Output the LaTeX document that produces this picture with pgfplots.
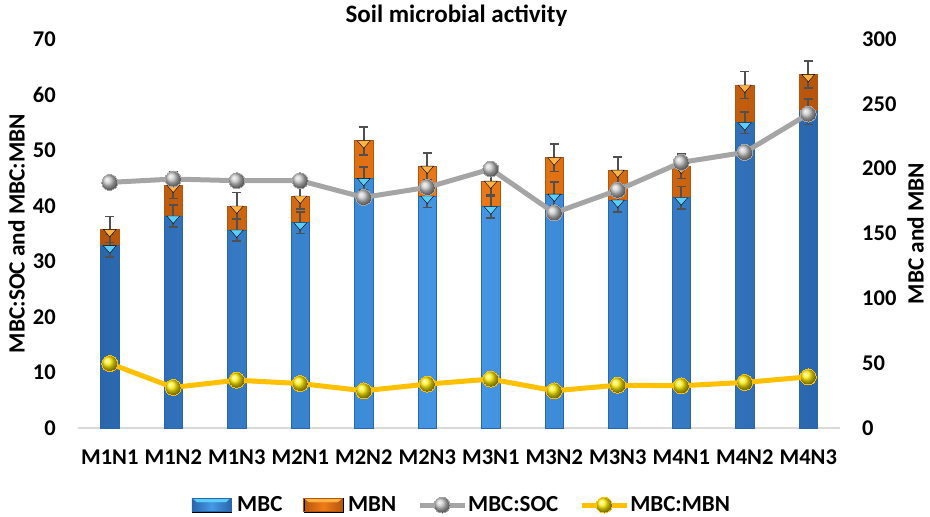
\documentclass[border=0pt]{standalone}
\usepackage{fontspec}
\setmainfont{Carlito}
\usepackage{pgfplots}
\usepackage{pgfplotstable}
\pgfplotsset{compat=1.18}

\definecolor{bM}{HTML}{4599E7}
\definecolor{bD}{HTML}{2A66AC}
\definecolor{bL}{HTML}{5CCDF4}
\definecolor{oM}{HTML}{EF7B17}
\definecolor{oD}{HTML}{B5550C}
\definecolor{oL}{HTML}{FBB444}
\definecolor{gL}{HTML}{A5A5A5}
\definecolor{yL}{HTML}{FFC000}
\definecolor{errc}{HTML}{505050}
\definecolor{axc}{HTML}{D9D9D9}

\pgfplotstableread{
x mbc mbn ec en soc ratio
0 140.6 12.6 8.7 10.0 44.2 11.6
1 163.5 23.9 8.7 10.3 44.8 7.3
2 152.7 18.5 8.5 10.3 44.5 8.6
3 158.3 20.6 8.2 10.0 44.5 8.0
4 192.5 29.0 9.0 10.8 41.5 6.7
5 178.9 23.1 8.7 10.3 43.3 7.9
6 170.6 19.8 8.5 10.3 46.6 8.8
7 180.4 28.0 9.3 10.6 38.7 6.7
8 175.8 23.1 9.0 10.3 42.8 7.7
9 177.6 24.4 8.7 9.5 47.8 7.6
10 235.4 29.1 8.2 10.3 49.6 8.2
11 243.9 28.8 9.8 10.3 56.5 9.2
}\datatable

\newcommand{\tickfont}{\bfseries\fontsize{22.5}{26}\selectfont}
\newcommand{\lblfont}{\bfseries\fontsize{23.3}{27}\selectfont}

\pgfplotsset{
  base/.style={
    scale only axis, width=762pt, height=389pt,
    xmin=-0.5, xmax=11.5,
    at={(78pt,89pt)}, anchor=south west,
    major tick length=0pt, minor tick num=0,
    /pgf/number format/assume math mode=true,
    tick label style={font=\tickfont},
    clip=false,
  },
  errstyle/.style={
    draw=none, mark=none, forget plot,
    error bars/.cd, y dir=both, y explicit,
    error bar style={draw=errc, line width=1.6pt, solid},
    error mark options={draw=errc, line width=1.6pt, mark size=4.7pt, rotate=90},
  },
  lineleg/.style={
    legend image code/.code={\draw[mark repeat=2, mark phase=2, ##1] plot coordinates {(0pt,0pt) (22.5pt,0pt) (45pt,0pt)};}
  },
  blueleg/.style={
    legend image code/.code={
      \shade[left color=bD, right color=bD, middle color=bM] (0pt,-6.7pt) rectangle (39pt,6.7pt);
      \fill[bL] (1pt,6.7pt) -- (38pt,6.7pt) -- (34pt,3pt) -- (5pt,3pt) -- cycle;
      \draw[bD, line width=0.6pt] (0pt,-6.7pt) rectangle (39pt,6.7pt);}
  },
  orangeleg/.style={
    legend image code/.code={
      \shade[left color=oD, right color=oD, middle color=oM] (0pt,-6.7pt) rectangle (39pt,6.7pt);
      \fill[oL] (1pt,6.7pt) -- (38pt,6.7pt) -- (34pt,3pt) -- (5pt,3pt) -- cycle;
      \draw[oD, line width=0.6pt] (0pt,-6.7pt) rectangle (39pt,6.7pt);}
  },
}

\begin{document}
\begin{tikzpicture}
\useasboundingbox (0,0) rectangle (930pt,517pt);

% ---------- bars (right scale) ----------
\begin{axis}[base,
  ymin=0, ymax=300, ytick={0,50,...,300},
  axis x line*=bottom, axis y line*=right,
  x axis line style={draw=axc, line width=1.3pt, -},
  y axis line style={draw=none},
  xtick={0,...,11},
  xticklabels={M1N1,M1N2,M1N3,M2N1,M2N2,M2N3,M3N1,M3N2,M3N3,M4N1,M4N2,M4N3},
  xticklabel style={anchor=north, inner sep=0pt, yshift=-22pt},
  yticklabel style={anchor=west, inner sep=0pt, xshift=22pt},
  ylabel={MBC and MBN},
  every axis y label/.style={at={(axis description cs:1,0.5)}, anchor=center, inner sep=0pt, xshift=75.5pt, rotate=90, font=\lblfont},
  title={Soil microbial activity},
  every axis title/.style={at={(axis description cs:0.4967,1.0419)}, anchor=base, font=\bfseries\fontsize{25}{29}\selectfont},
]
% total (MBC + MBN) drawn in orange
\addplot[ybar, bar width=18.5pt, bar shift=0pt, draw=oD, line width=0.6pt,
  left color=oD, right color=oD, middle color=oM]
  table[x=x, y expr=\thisrow{mbc}+\thisrow{mbn}] {\datatable};
\addplot[only marks, mark=triangle*, mark size=5pt,
  mark options={yshift=-2.5pt, rotate=180, xscale=1.5, fill=oL, draw=none}]
  table[x=x, y expr=\thisrow{mbc}+\thisrow{mbn}] {\datatable};
% MBC in blue over it
\addplot[ybar, bar width=18.5pt, bar shift=0pt, draw=bD, line width=0.6pt,
  left color=bD, right color=bD, middle color=bM]
  table[x=x, y=mbc] {\datatable};
\addplot[only marks, mark=triangle*, mark size=5pt,
  mark options={yshift=-2.5pt, rotate=180, xscale=1.5, fill=bL, draw=none}]
  table[x=x, y=mbc] {\datatable};
% error bars
\addplot[errstyle] table[x=x, y=mbc, y error=ec] {\datatable};
\addplot[errstyle] table[x=x, y expr=\thisrow{mbc}+\thisrow{mbn}, y error=en] {\datatable};
\end{axis}

% ---------- ratios (left scale) ----------
\begin{axis}[base,
  ymin=0, ymax=70, ytick={0,10,...,70},
  axis y line*=left, axis x line=none,
  y axis line style={draw=none},
  yticklabel style={anchor=east, inner sep=0pt, xshift=-22pt},
  ylabel={MBC:SOC and MBC:MBN},
  every axis y label/.style={at={(axis description cs:0,0.5)}, anchor=center, inner sep=0pt, xshift=-61.5pt, rotate=90, font=\lblfont},
  legend columns=4,
  legend style={at={(axis description cs:0.503,-0.198)}, anchor=center,
    draw=none, fill=none, font=\bfseries\fontsize{23}{27}\selectfont,
    /tikz/every even column/.append style={column sep=20pt},
    nodes={inner sep=1pt}},
]
\addlegendimage{blueleg}
\addlegendentry{\hspace*{5pt}MBC}
\addlegendimage{orangeleg}
\addlegendentry{\hspace*{4pt}MBN}
\addplot[gL, line width=5pt, line join=round, mark=ball, mark size=8pt,
  mark options={ball color=gray!45, line width=0pt}, lineleg]
  table[x=x, y=soc] {\datatable};
\addlegendentry{MBC:SOC}
\addplot[yL, line width=5pt, line join=round, mark=ball, mark size=8pt,
  mark options={ball color=yellow!85!orange, line width=0pt}, lineleg]
  table[x=x, y=ratio] {\datatable};
\addlegendentry{MBC:MBN}
\end{axis}
\end{tikzpicture}
\end{document}
